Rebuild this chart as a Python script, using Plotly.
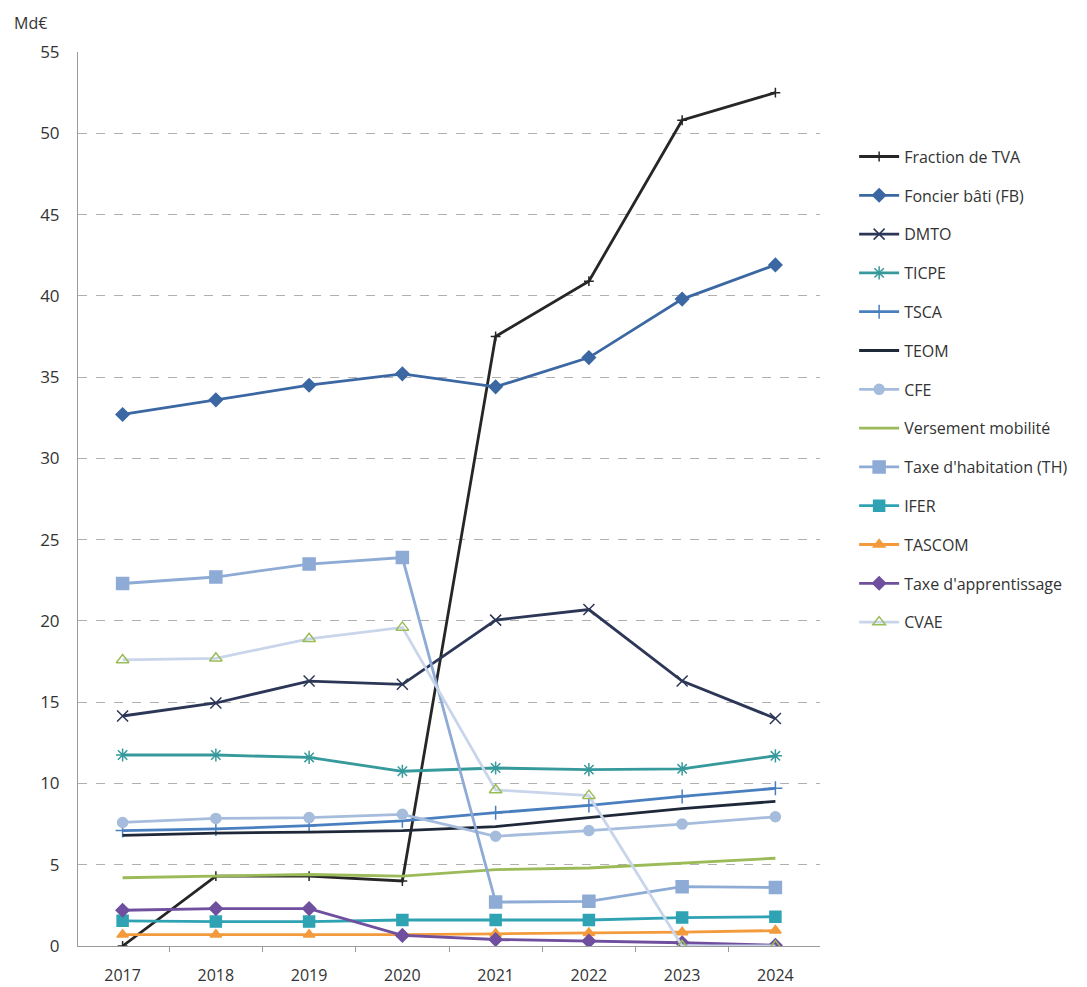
import plotly.graph_objects as go

years = ["2017", "2018", "2019", "2020", "2021", "2022", "2023", "2024"]

fraction_tva = [0.0, 4.3, 4.3, 4.0, 37.5, 40.9, 50.8, 52.5]
foncier_bati = [32.7, 33.6, 34.5, 35.2, 34.4, 36.2, 39.8, 41.9]
dmto = [14.15, 14.95, 16.3, 16.1, 20.05, 20.7, 16.3, 14.0]
ticpe = [11.75, 11.75, 11.6, 10.75, 10.95, 10.85, 10.9, 11.7]
tsca = [7.1, 7.2, 7.4, 7.7, 8.2, 8.65, 9.2, 9.7]
teom = [6.8, 6.95, 7.0, 7.1, 7.35, 7.9, 8.45, 8.9]
cfe = [7.6, 7.85, 7.9, 8.1, 6.75, 7.1, 7.5, 7.95]
versement_mobilite = [4.2, 4.3, 4.4, 4.3, 4.7, 4.8, 5.1, 5.4]
taxe_habitation = [22.3, 22.7, 23.5, 23.9, 2.7, 2.75, 3.65, 3.6]
ifer = [1.55, 1.5, 1.5, 1.6, 1.6, 1.6, 1.75, 1.8]
tascom = [0.7, 0.7, 0.7, 0.7, 0.75, 0.8, 0.85, 0.95]
taxe_apprentissage = [2.2, 2.3, 2.3, 0.65, 0.4, 0.3, 0.2, 0.05]
cvae = [17.6, 17.7, 18.9, 19.6, 9.6, 9.25, 0.0, 0.0]

y_ticks = [0, 5, 10, 15, 20, 25, 30, 35, 40, 45, 50, 55]

series = [
    ("Fraction de TVA", fraction_tva, "#262626", "cross-thin", 7, None),
    ("Foncier bâti (FB)", foncier_bati, "#3b67a3", "diamond", 10, None),
    ("DMTO", dmto, "#2c3656", "x-thin", 11, None),
    ("TICPE", ticpe, "#36999b", "asterisk", 11, None),
    ("TSCA", tsca, "#4a7fbf", "cross-thin", 10, None),
    ("TEOM", teom, "#1e2838", None, 0, None),
    ("CFE", cfe, "#a6bcdc", "circle", 10, None),
    ("Versement mobilité", versement_mobilite, "#9bbb59", None, 0, None),
    ("Taxe d'habitation (TH)", taxe_habitation, "#8eabd6", "square", 12, None),
    ("IFER", ifer, "#2fa3b4", "square", 11, None),
    ("TASCOM", tascom, "#f39b3c", "triangle-up", 10, None),
    ("Taxe d'apprentissage", taxe_apprentissage, "#6f4f9e", "diamond", 10, None),
    ("CVAE", cvae, "#c8d5ea", "triangle-up-open", 11, "#9bbb59"),
]

fig = go.Figure()
for name, vals, color, symbol, size, mcolor in series:
    common = dict(x=years, y=vals, name=name, legendgroup=name,
                  line=dict(color=color, width=2.8))
    if symbol is None:
        fig.add_trace(go.Scatter(mode="lines", **common))
    else:
        fig.add_trace(go.Scatter(
            mode="lines+markers",
            marker=dict(symbol=symbol, size=size, color=mcolor or color,
                        line=dict(color=mcolor or color, width=1.5)),
            **common,
        ))

fig.update_layout(
    width=1087, height=987,
    paper_bgcolor="white", plot_bgcolor="white",
    margin=dict(l=78, r=267, t=52, b=41),
    font=dict(family="Open Sans, Liberation Sans, sans-serif", size=16, color="#333333"),
    legend=dict(
        x=1.046, xanchor="left", xref="paper",
        y=0.902, yanchor="top",
        tracegroupgap=15, itemwidth=40,
        font=dict(size=16, color="#333333"),
        bgcolor="rgba(0,0,0,0)",
    ),
    showlegend=True,
    annotations=[dict(
        text="Md€", xref="paper", yref="paper", x=-0.089, y=1.0,
        xanchor="left", yanchor="bottom", yshift=16, showarrow=False,
        font=dict(size=16, color="#333333"),
    )],
)
fig.update_xaxes(
    type="category", showgrid=False, showline=True, linecolor="#9a9a9a", linewidth=1,
    ticks="outside", tickson="boundaries", ticklen=5, tickcolor="#9a9a9a",
    ticklabelstandoff=15, automargin=False, tickfont=dict(size=16, color="#333333"),
)
fig.update_yaxes(
    range=[0, 55], tickvals=y_ticks, showgrid=True, gridcolor="#b0b0b0",
    griddash="dash", gridwidth=1, showline=True, linecolor="#9a9a9a", linewidth=1,
    ticks="", zeroline=False, ticklabelstandoff=14, automargin=False,
    tickfont=dict(size=17, color="#333333"),
)

fig.write_html("out.html")
